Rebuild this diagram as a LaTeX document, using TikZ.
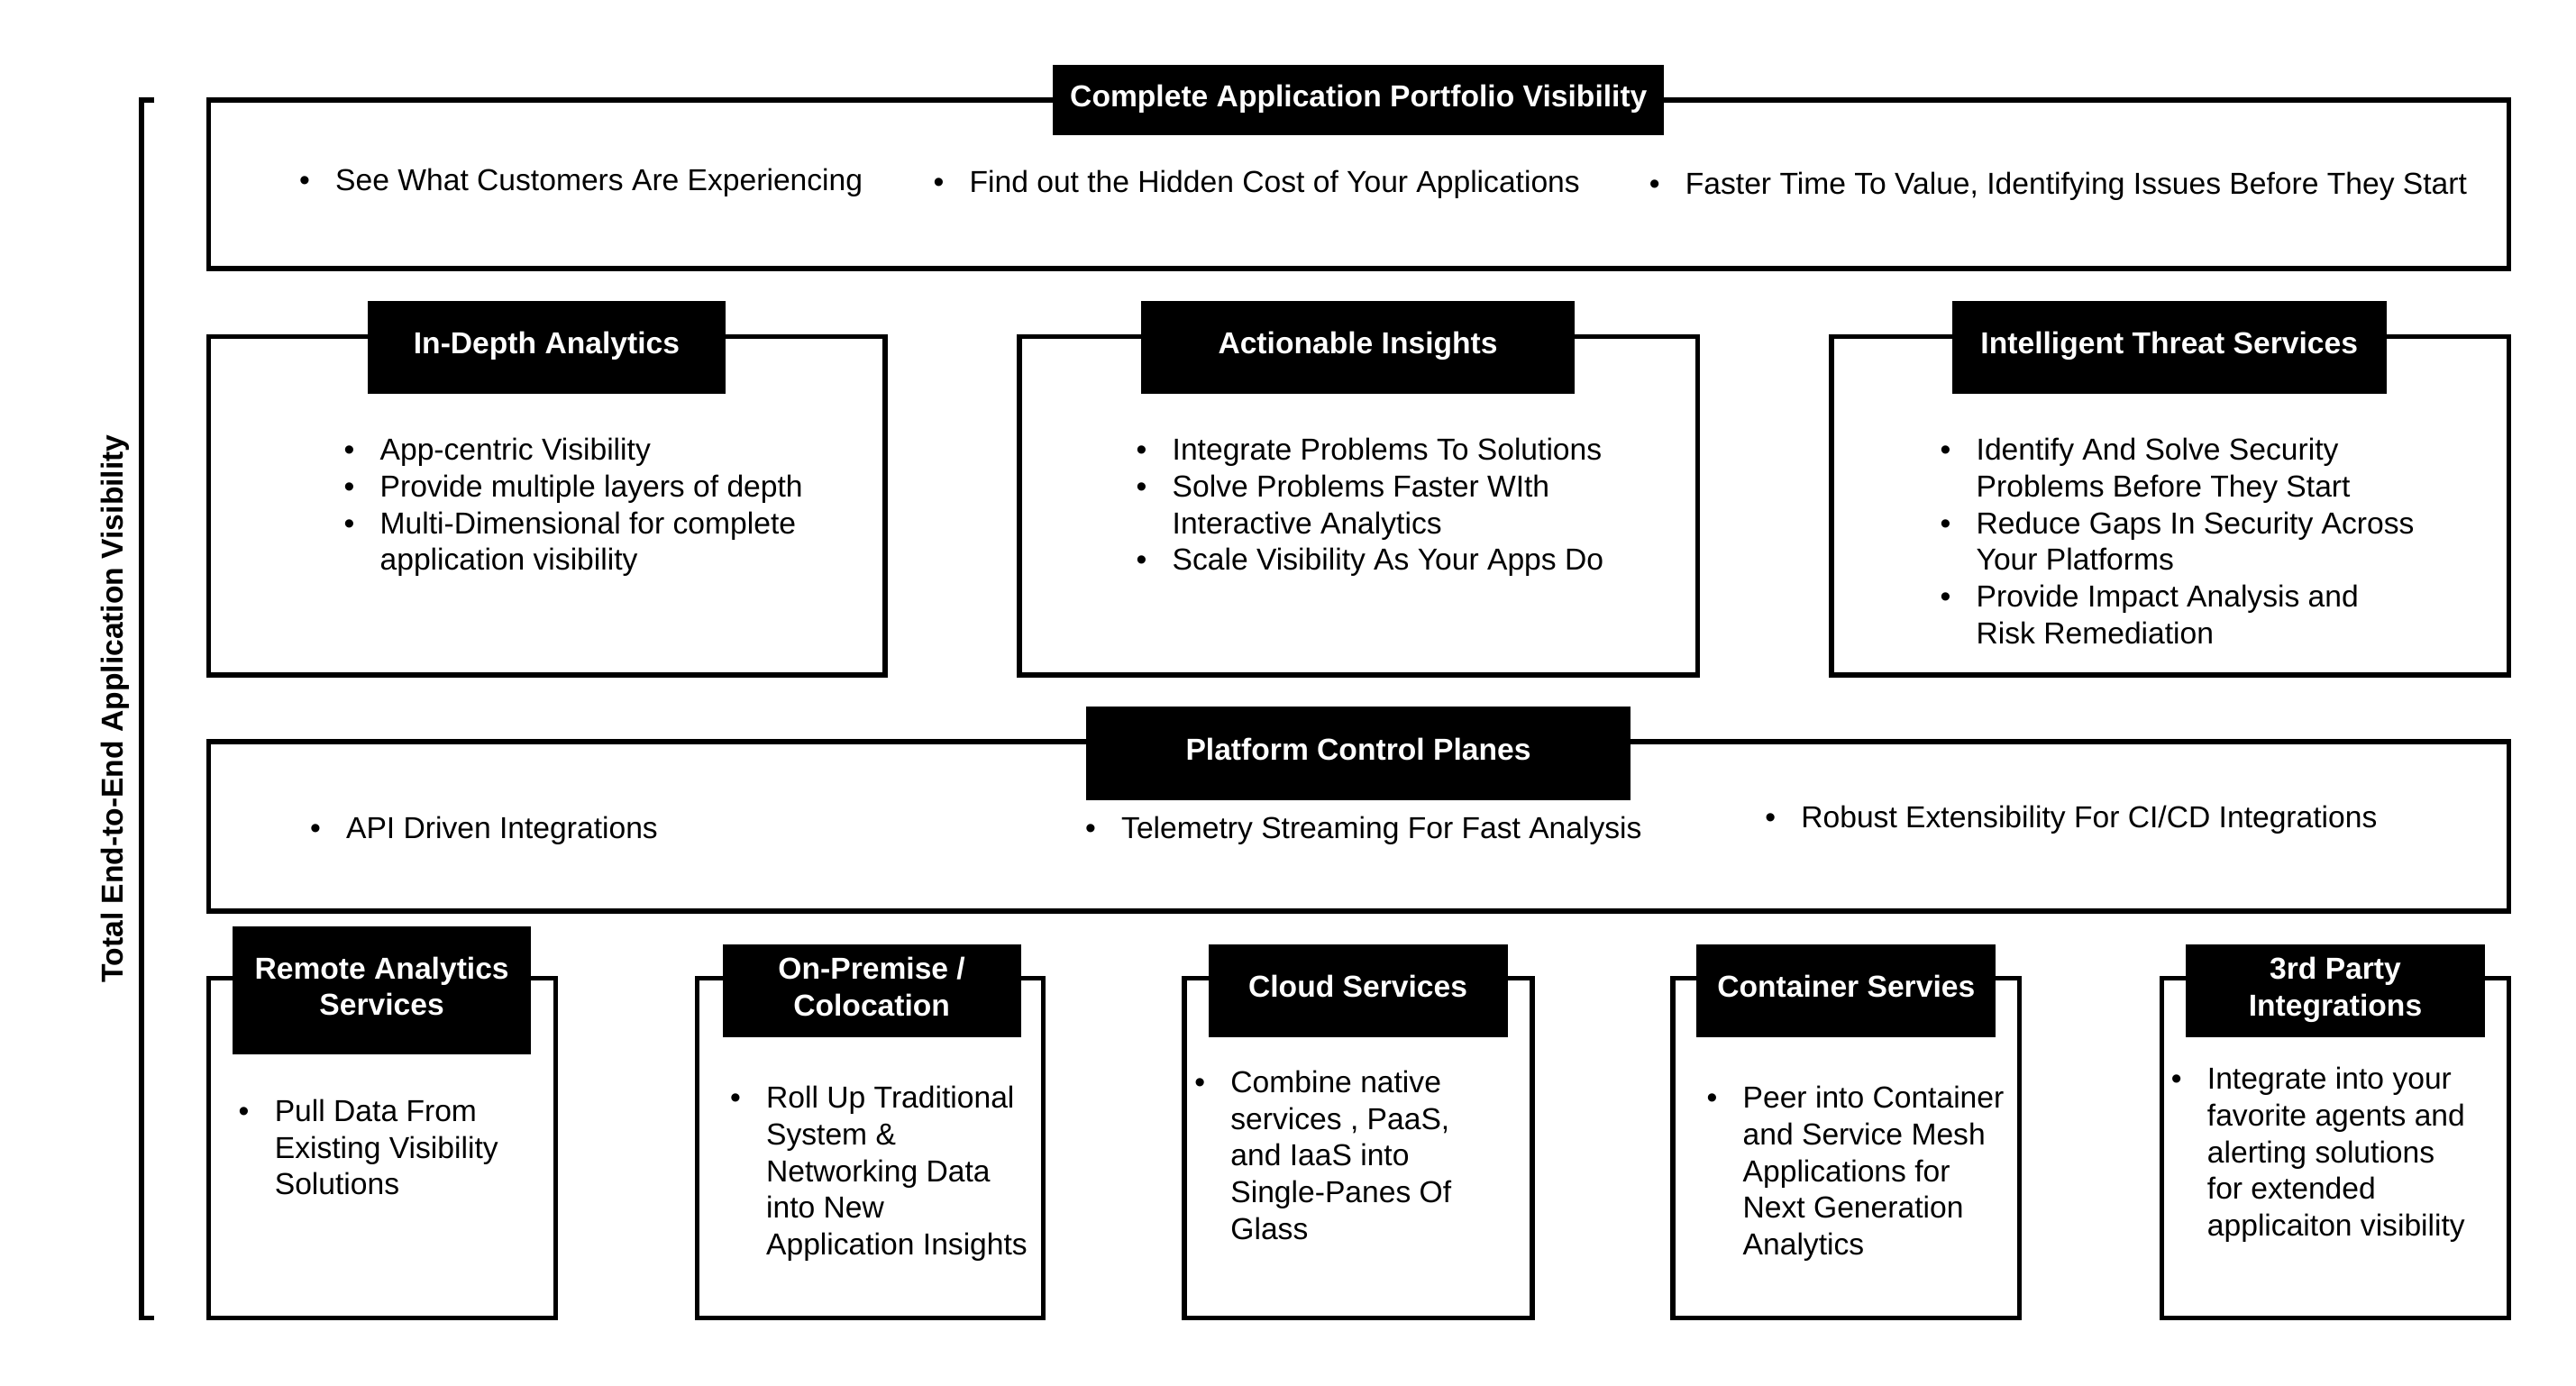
\documentclass[tikz,border=0pt]{standalone}
\usepackage{fontspec}
\setmainfont{Liberation Sans}
\usetikzlibrary{fit}
% bullet list: bullet column + text column, first row on the node baseline
\newcommand{\pts}[1]{\begin{tabular}[t]{@{}p{0.44cm}@{}l@{}}#1\end{tabular}}

\begin{document}
\begin{tikzpicture}[
  x=0.02cm, y=-0.02cm,
  panel/.style={draw, line width=1.7pt, inner sep=0pt},
  tag/.style 2 args={fill=black, text=white, inner sep=0pt, align=center,
              minimum width=#1*0.02cm, minimum height=#2*0.02cm, text depth=0.3em,
              font=\fontsize{10.5}{12.7}\selectfont\bfseries},
  items/.style={anchor=base west, inner sep=0pt,
                font=\fontsize{10.5}{12.7}\selectfont}
]
\useasboundingbox (0,0) rectangle (1568.1,843.8);

% side bracket
\node[rotate=90, font=\fontsize{10.5}{12.7}\selectfont\bfseries] (side) at (70,431.5)
  {Total End-to-End Application Visibility};
\draw[line width=1.7pt] (94,60.9) -- (86.1,60.9) -- (86.1,802.4) -- (94,802.4);

% panels
\node[panel, fit={(127.1,60.9) (1527.2,163.6)}] (cap) {};
\node[panel, fit={(127.1,204.8) (538.9,411)}] (ida) {};
\node[panel, fit={(620.5,204.8) (1033.3,411)}] (aci) {};
\node[panel, fit={(1114.8,204.8) (1527.2,411)}] (its) {};
\node[panel, fit={(127.1,451.6) (1527.2,554.8)}] (pcp) {};
\node[panel, fit={(127.1,595.7) (338.3,802.4)}] (ras) {};
\node[panel, fit={(424.3,595.7) (635,802.4)}] (opc) {};
\node[panel, fit={(721,595.7) (932.7,802.4)}] (cls) {};
\node[panel, fit={(1018.3,595.7) (1229.4,802.4)}] (cts) {};
\node[panel, fit={(1316,595.7) (1527.2,802.4)}] (tpi) {};

% titles
\node[tag={372}{42.9}] (cap-t) at (827,61.05) {Complete Application Portfolio Visibility};
\node[tag={218.1}{56.5}] (ida-t) at (332.75,211.55) {In-Depth Analytics};
\node[tag={264.2}{56.5}] (aci-t) at (826.6,211.55) {Actionable Insights};
\node[tag={264.2}{56.5}] (its-t) at (1320.5,211.55) {Intelligent Threat Services};
\node[tag={331.7}{56.9}] (pcp-t) at (826.85,458.75) {Platform Control Planes};
\node[tag={181.7}{78}] (ras-t) at (232.45,603) {Remote Analytics\\Services};
\node[tag={181.7}{56.3}] (opc-t) at (530.65,603.15) {On-Premise /\\Colocation};
\node[tag={182.2}{56.3}] (cls-t) at (826.6,603.15) {Cloud Services};
\node[tag={182.1}{56.3}] (cts-t) at (1123.85,603.15) {Container Servies};
\node[tag={182.2}{56.3}] (tpi-t) at (1421.6,603.15) {3rd Party\\Integrations};

% top row
\node[items] (cap-1) at (181.9,116.3) {\pts{\textbullet & See What Customers Are Experiencing\\}};
\node[items] (cap-2) at (567.8,117.3) {\pts{\textbullet & Find out the Hidden Cost of Your Applications\\}};
\node[items] (cap-3) at (1003.6,118) {\pts{\textbullet & Faster Time To Value, Identifying Issues Before They Start\\}};

% second row
\node[items] (ida-l) at (209,280.3) {\pts{
  \textbullet & App-centric Visibility\\
  \textbullet & Provide multiple layers of depth\\
  \textbullet & Multi-Dimensional for complete\\
              & application visibility\\}};
\node[items] (aci-l) at (691.3,280.3) {\pts{
  \textbullet & Integrate Problems To Solutions\\
  \textbullet & Solve Problems Faster WIth\\
              & Interactive Analytics\\
  \textbullet & Scale Visibility As Your Apps Do\\}};
\node[items] (its-l) at (1180.7,280.3) {\pts{
  \textbullet & Identify And Solve Security\\
              & Problems Before They Start\\
  \textbullet & Reduce Gaps In Security Across\\
              & Your Platforms\\
  \textbullet & Provide Impact Analysis and\\
              & Risk Remediation\\}};

% control planes
\node[items] (pcp-1) at (188.4,510.3) {\pts{\textbullet & API Driven Integrations\\}};
\node[items] (pcp-2) at (660.3,510.3) {\pts{\textbullet & Telemetry Streaming For Fast Analysis\\}};
\node[items] (pcp-3) at (1074.1,504.2) {\pts{\textbullet & Robust Extensibility For CI/CD Integrations\\}};

% bottom row
\node[items] (ras-l) at (144.9,682.9) {\pts{
  \textbullet & Pull Data From\\
              & Existing Visibility\\
              & Solutions\\}};
\node[items] (opc-l) at (444.1,674.8) {\pts{
  \textbullet & Roll Up Traditional\\
              & System \&\\
              & Networking Data\\
              & into New\\
              & Application Insights\\}};
\node[items] (cls-l) at (726.8,665.3) {\pts{
  \textbullet & Combine native\\
              & services , PaaS,\\
              & and IaaS into\\
              & Single-Panes Of\\
              & Glass\\}};
\node[items] (cts-l) at (1038.6,674.8) {\pts{
  \textbullet & Peer into Container\\
              & and Service Mesh\\
              & Applications for\\
              & Next Generation\\
              & Analytics\\}};
\node[items] (tpi-l) at (1321.3,663.2) {\pts{
  \textbullet & Integrate into your\\
              & favorite agents and\\
              & alerting solutions\\
              & for extended\\
              & applicaiton visibility\\}};
\end{tikzpicture}
\end{document}
